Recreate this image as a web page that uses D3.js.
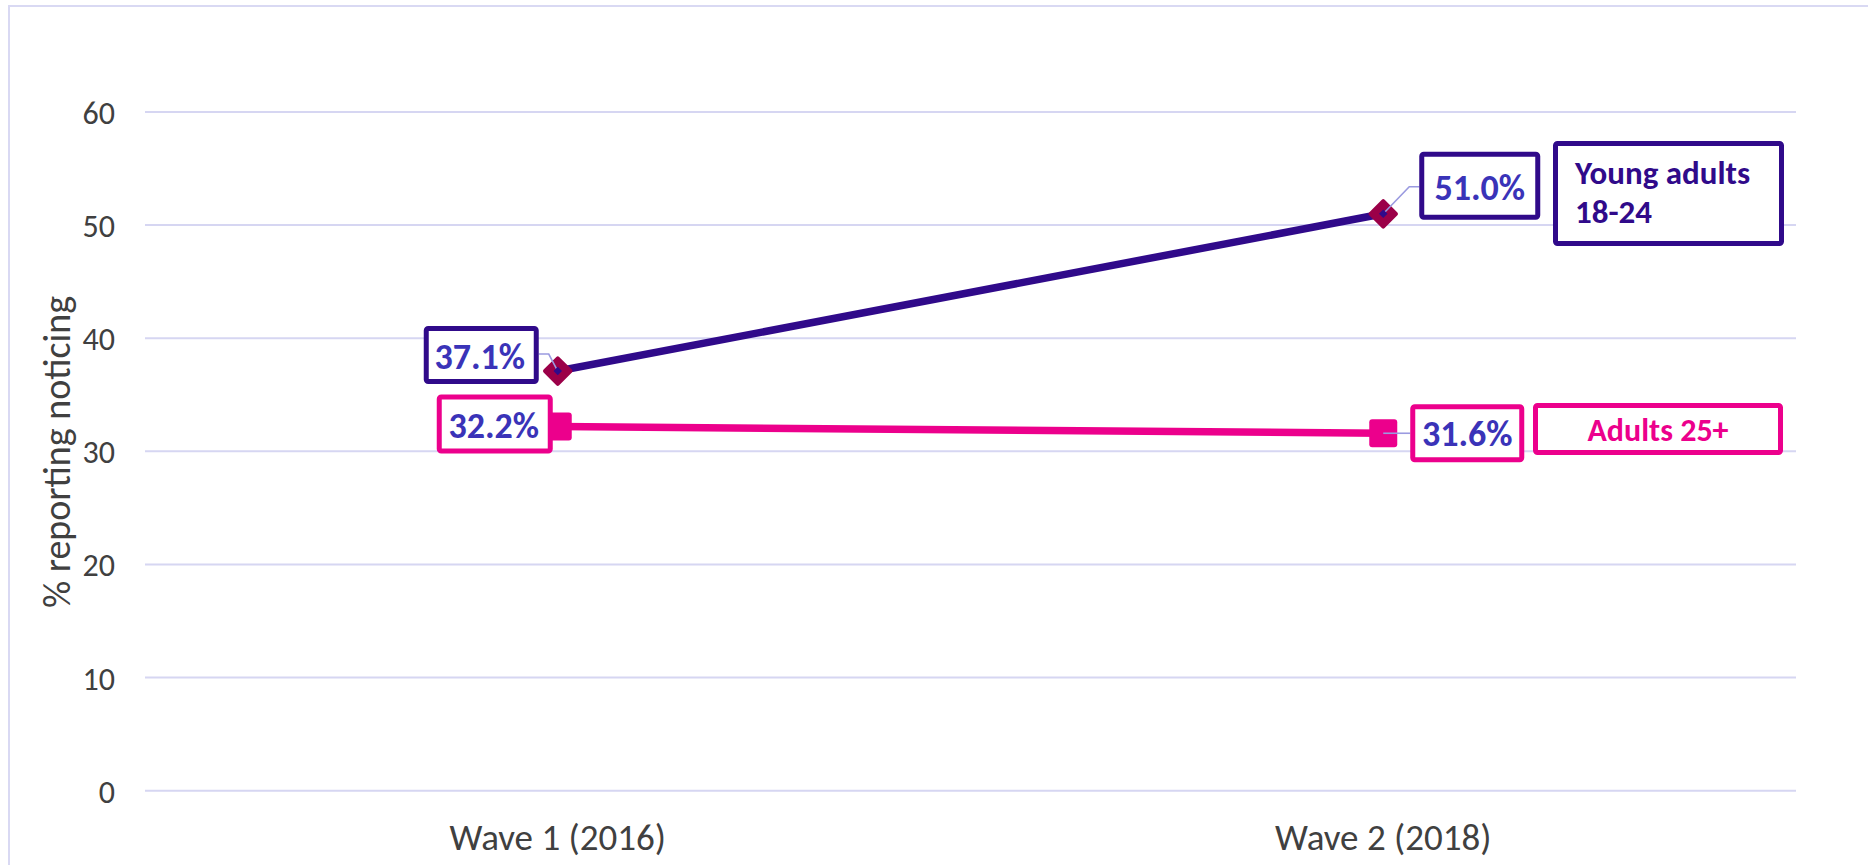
<!DOCTYPE html>
<html>
<head>
<meta charset="utf-8">
<script src="https://cdn.jsdelivr.net/npm/d3@7"></script>
<style>
  html, body { margin: 0; padding: 0; background: #ffffff; }
  svg { display: block; font-family: Carlito, Lato, "Open Sans", sans-serif; }
</style>
</head>
<body>
<svg id="chart" width="1868" height="865"></svg>
<script>
// ---- data ----
const categories = ["Wave 1 (2016)", "Wave 2 (2018)"];
const youngAdults = [37.1, 51.0];
const adults25 = [32.2, 31.6];
const yTicks = [0, 10, 20, 30, 40, 50, 60];
const seriesNames = ["Young adults", "18-24", "Adults 25+"];
const yTitle = "% reporting noticing";

const purple = "#300a8a";
const pink = "#ec008c";
const labelBlue = "#3a33b8";
const crimson = "#9b0048";
const gridColor = "#d6d6f2";
const leaderColor = "#9a9ae0";

const svg = d3.select("#chart");
const W = 1868, H = 865;

// outer chart border
svg.append("rect").attr("x", 9).attr("y", 6).attr("width", W + 20).attr("height", H + 20)
  .attr("fill", "none").attr("stroke", "#d9d9f3").attr("stroke-width", 2);

const x = d3.scaleBand().domain(categories).range([145, 1796]).padding(0);
const y = d3.scaleLinear().domain([0, 60]).range([790.7, 112]);
const cx = c => x(c) + x.bandwidth() / 2;

// gridlines
svg.append("g").selectAll("line").data(yTicks).join("line")
  .attr("x1", 145).attr("x2", 1796)
  .attr("y1", d => y(d)).attr("y2", d => y(d))
  .attr("stroke", gridColor).attr("stroke-width", 2);

// y axis tick labels
const yAxis = d3.axisLeft(y).tickValues(yTicks).tickSize(0).tickPadding(0).tickFormat(d3.format("d"));
const ya = svg.append("g").attr("transform", "translate(115,0)").call(yAxis);
ya.select(".domain").remove();
ya.selectAll("text").attr("font-size", 32).attr("fill", "#404040")
  .attr("font-family", "Carlito, Lato, sans-serif").attr("dy", "0.36em");

// x axis labels
const xAxis = d3.axisBottom(x).tickSize(0).tickPadding(0);
const xa = svg.append("g").attr("transform", "translate(0,850)").call(xAxis);
xa.select(".domain").remove();
xa.selectAll("text").attr("font-size", 37).attr("fill", "#404040")
  .attr("font-family", "Carlito, Lato, sans-serif").attr("dy", 0);

// y title
svg.append("text").attr("transform", "translate(70,452) rotate(-90)")
  .attr("text-anchor", "middle").attr("font-size", 38).attr("fill", "#404040")
  .text(yTitle);

// lines
const line = d3.line().x((d, i) => cx(categories[i])).y(d => y(d));
svg.append("path").datum(youngAdults).attr("d", line)
  .attr("fill", "none").attr("stroke", purple).attr("stroke-width", 7.5);
svg.append("path").datum(adults25).attr("d", line)
  .attr("fill", "none").attr("stroke", pink).attr("stroke-width", 7.5);

// markers
youngAdults.forEach((v, i) => {
  const px = cx(categories[i]), py = y(v);
  svg.append("rect").attr("x", px - 11).attr("y", py - 11).attr("width", 22).attr("height", 22)
    .attr("rx", 2).attr("fill", crimson)
    .attr("transform", `rotate(45,${px},${py})`);
});
adults25.forEach((v, i) => {
  const px = cx(categories[i]), py = y(v);
  svg.append("rect").attr("x", px - 14).attr("y", py - 14).attr("width", 28).attr("height", 28)
    .attr("rx", 3).attr("fill", pink);
});

// leader lines
function leader(points) {
  svg.append("path").attr("d", d3.line()(points))
    .attr("fill", "none").attr("stroke", leaderColor).attr("stroke-width", 1.6);
}
const p1 = [cx(categories[0]), y(youngAdults[0])];
const p2 = [cx(categories[1]), y(youngAdults[1])];
const q2 = [cx(categories[1]), y(adults25[1])];
leader([[p1[0] - 19, p1[1] - 17], [p1[0] - 9, p1[1] - 17], p1]);
leader([[p2[0] + 36, p2[1] - 27], [p2[0] + 26, p2[1] - 27], p2]);
leader([q2, [q2[0] + 27, q2[1]]]);
// small dark centre on diamonds (leader ends)
[p1, p2].forEach(p => {
  svg.append("rect").attr("x", p[0] - 3).attr("y", p[1] - 3).attr("width", 6).attr("height", 6)
    .attr("fill", purple).attr("transform", `rotate(45,${p[0]},${p[1]})`);
});

// label boxes
function box(cxp, cyp, w, h, stroke, lines, color, size, anchor, tx, baselines) {
  const sw = 5;
  svg.append("rect").attr("x", cxp - w / 2 + sw / 2).attr("y", cyp - h / 2 + sw / 2)
    .attr("width", w - sw).attr("height", h - sw).attr("rx", 2)
    .attr("fill", "#ffffff").attr("stroke", stroke).attr("stroke-width", sw);
  lines.forEach((t, k) => {
    svg.append("text").attr("x", tx).attr("y", baselines[k])
      .attr("text-anchor", anchor).attr("font-weight", "bold").attr("font-size", size)
      .attr("fill", color).text(t);
  });
}
const fmt = v => v.toFixed(1) + "%";
// data labels
box(p1[0] - 76.5, p1[1] - 16, 115, 58, purple, [fmt(youngAdults[0])], labelBlue, 36, "middle", p1[0] - 78, [p1[1] - 2]);
const q1 = [cx(categories[0]), y(adults25[0])];
box(q1[0] - 63, q1[1] - 2.5, 116, 59, pink, [fmt(adults25[0])], labelBlue, 36, "middle", q1[0] - 64, [q1[1] + 11.5]);
box(p2[0] + 96.5, p2[1] - 28, 121, 68, purple, [fmt(youngAdults[1])], labelBlue, 36, "middle", p2[0] + 96.5, [p2[1] - 14]);
box(q2[0] + 84, q2[1], 114, 58, pink, [fmt(adults25[1])], labelBlue, 36, "middle", q2[0] + 84, [q2[1] + 13]);

// series name boxes
box(1668.5, 193.5, 231, 105, purple, [seriesNames[0], seriesNames[1]], purple, 33, "start", 1575, [184, 223]);
box(1658, 429, 250, 52, pink, [seriesNames[2]], pink, 32, "middle", 1658, [441]);
</script>
</body>
</html>
